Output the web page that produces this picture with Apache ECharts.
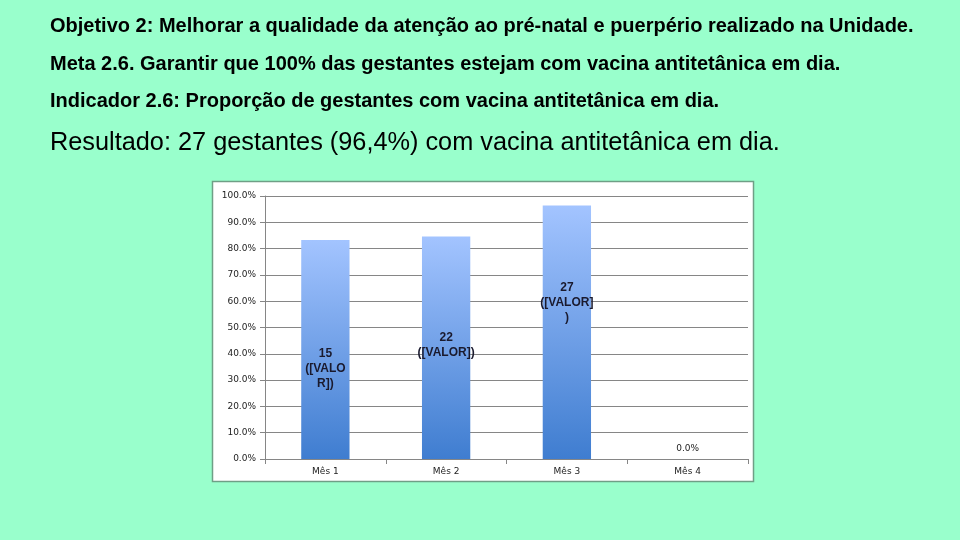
<!DOCTYPE html>
<html>
<head>
<meta charset="utf-8">
<script src="https://cdn.jsdelivr.net/npm/echarts@6/dist/echarts.min.js"></script>
<style>
html,body{margin:0;padding:0;background:#99ffcc;}
#c{width:960px;height:540px;}
</style>
</head>
<body>
<div id="c"></div>
<script>
var categories = ['Mês 1', 'Mês 2', 'Mês 3', 'Mês 4'];
var percentValues = [83.3, 84.6, 96.4, 0.0];
var counts = [15, 22, 27, 0];
var labelTexts = ['15\n([VALO\nR])', '22\n([VALOR])', '27\n([VALOR]\n)', '0.0%'];
var yTicks = [0, 10, 20, 30, 40, 50, 60, 70, 80, 90, 100];

var headerLines = [
  'Objetivo 2: Melhorar a qualidade da atenção ao pré-natal e puerpério realizado na Unidade.',
  'Meta 2.6. Garantir que 100% das gestantes estejam com vacina antitetânica em dia.',
  'Indicador 2.6: Proporção de gestantes com vacina antitetânica em dia.',
  'Resultado: 27 gestantes (96,4%) com vacina antitetânica em dia.'
];

var labelOffsets = [[0, 19], [0, -3], [0, -30]];

var chart = echarts.init(document.getElementById('c'));
var barData = percentValues.map(function (v, i) {
  var lbl;
  if (i < 3) {
    lbl = {show: true, position: 'inside', offset: labelOffsets[i], formatter: labelTexts[i],
      fontFamily: 'Liberation Sans, Arial, sans-serif', fontWeight: 'bold', fontSize: 12,
      lineHeight: 15, color: '#1a1a2e'};
  } else {
    lbl = {show: true, position: 'top', distance: 6, formatter: labelTexts[i],
      fontFamily: 'DejaVu Sans, sans-serif', fontSize: 9, color: '#222'};
  }
  return {value: v, label: lbl};
});

var headStyle = {fontFamily: 'Liberation Sans, Arial, sans-serif', fontWeight: 'bold', fontSize: 20, lineHeight: 22, color: '#000'};

chart.setOption({
  backgroundColor: '#99ffcc',
  animation: false,
  title: [
    {text: headerLines[0], left: 45, top: 10, textStyle: headStyle},
    {text: headerLines[1], left: 45, top: 48, textStyle: headStyle},
    {text: headerLines[2], left: 45, top: 85, textStyle: headStyle},
    {text: headerLines[3], left: 45, top: 125, textStyle: {fontFamily: 'Liberation Sans, Arial, sans-serif', fontWeight: 'normal', fontSize: 25.3, lineHeight: 27, color: '#000'}}
  ],
  graphic: [
    {type: 'rect', z: -1, shape: {x: 212.5, y: 181.5, width: 541, height: 300},
     style: {fill: '#ffffff', stroke: '#6f9f86', lineWidth: 1.5}}
  ],
  grid: {left: 265, right: 212, top: 196, bottom: 81},
  xAxis: {
    type: 'category', data: categories,
    axisLine: {lineStyle: {color: '#868686'}},
    axisTick: {show: true, alignWithLabel: false, length: 5, lineStyle: {color: '#868686'}},
    axisLabel: {fontFamily: 'DejaVu Sans, sans-serif', fontSize: 9, color: '#222', margin: 8}
  },
  yAxis: {
    type: 'value', min: 0, max: 100, interval: 10,
    axisLine: {show: true, lineStyle: {color: '#868686'}},
    axisTick: {show: true, length: 5, lineStyle: {color: '#868686'}},
    splitLine: {lineStyle: {color: '#868686'}},
    axisLabel: {fontFamily: 'DejaVu Sans, sans-serif', fontSize: 9, color: '#222', margin: 9,
      formatter: function (v) { return v.toFixed(1) + '%'; }}
  },
  series: [{
    type: 'bar', data: barData, barWidth: '40%',
    itemStyle: {
      color: new echarts.graphic.LinearGradient(0, 0, 0, 1, [
        {offset: 0, color: '#a3c4ff'},
        {offset: 1, color: '#3f7dd0'}
      ])
    }
  }]
});
</script>
</body>
</html>
